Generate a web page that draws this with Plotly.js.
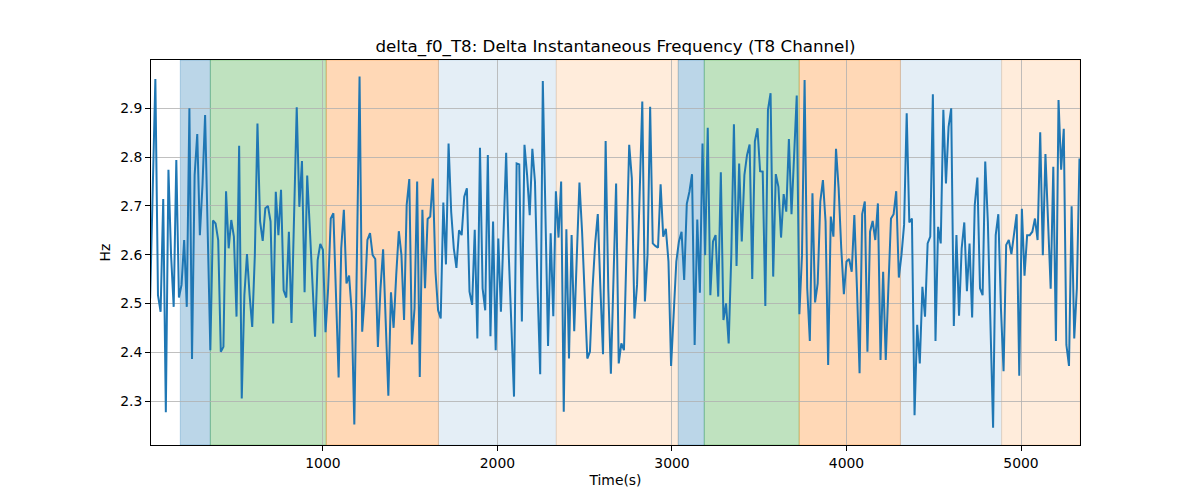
<!DOCTYPE html>
<html>
<head>
<meta charset="utf-8">
<script src="https://cdn.plot.ly/plotly-3.0.1.min.js"></script>
<style>
  html, body { margin: 0; padding: 0; background: #fff; }
  #chart { width: 1200px; height: 500px; }
</style>
</head>
<body>
<div id="chart"></div>
<script>
// delta f0 readings (Hz), one sample every SAMPLE_STEP seconds
const deltaF0 = [
  2.510, 2.740, 2.960, 2.517, 2.483, 2.714, 2.277, 2.774, 2.599, 2.493,
  2.794, 2.512, 2.538, 2.630, 2.493, 2.900, 2.386, 2.763, 2.847, 2.640,
  2.743, 2.886, 2.647, 2.404, 2.670, 2.664, 2.630, 2.401, 2.411, 2.730,
  2.613, 2.671, 2.637, 2.473, 2.823, 2.305, 2.517, 2.601, 2.517, 2.452,
  2.599, 2.869, 2.668, 2.628, 2.695, 2.700, 2.668, 2.459, 2.729, 2.640,
  2.733, 2.527, 2.512, 2.647, 2.460, 2.681, 2.902, 2.698, 2.792, 2.523,

  2.762, 2.654, 2.531, 2.432, 2.589, 2.622, 2.610, 2.441, 2.531, 2.674,
  2.685, 2.531, 2.348, 2.613, 2.692, 2.541, 2.557, 2.483, 2.252, 2.599,
  2.965, 2.442, 2.517, 2.630, 2.644, 2.599, 2.591, 2.411, 2.531, 2.611,
  2.463, 2.311, 2.523, 2.450, 2.558, 2.648, 2.599, 2.466, 2.702, 2.755,
  2.416, 2.490, 2.750, 2.349, 2.692, 2.531, 2.673, 2.678, 2.756, 2.565,
  2.486, 2.469, 2.707, 2.580, 2.828, 2.688, 2.613, 2.573, 2.650,

  2.640, 2.719, 2.736, 2.524, 2.497, 2.651, 2.428, 2.819, 2.531, 2.486,
  2.804, 2.433, 2.668, 2.404, 2.633, 2.483, 2.647, 2.809, 2.599, 2.435,
  2.309, 2.787, 2.785, 2.463, 2.825, 2.763, 2.681, 2.817, 2.750, 2.531,
  2.355, 2.956, 2.681, 2.413, 2.644, 2.474, 2.730, 2.635, 2.750, 2.278,
  2.652, 2.387, 2.640, 2.443, 2.599, 2.748, 2.647, 2.510, 2.387, 2.401,
  2.531, 2.623, 2.683, 2.531, 2.396, 2.833, 2.531, 2.356,

  2.551, 2.746, 2.377, 2.418, 2.404, 2.599, 2.825, 2.757, 2.469, 2.538,
  2.736, 2.914, 2.504, 2.599, 2.903, 2.623, 2.618, 2.614, 2.744, 2.637,
  2.653, 2.586, 2.372, 2.476, 2.586, 2.627, 2.647, 2.548, 2.704, 2.729,
  2.765, 2.415, 2.672, 2.522, 2.828, 2.599, 2.860, 2.517, 2.627, 2.640,
  2.514, 2.769, 2.466, 2.500, 2.418, 2.599, 2.867, 2.577, 2.787, 2.627,
  2.763, 2.804, 2.826, 2.550, 2.832, 2.859, 2.771, 2.770, 2.495, 2.897,

  2.931, 2.555, 2.765, 2.739, 2.635, 2.724, 2.688, 2.837, 2.683, 2.804,
  2.926, 2.478, 2.599, 2.958, 2.531, 2.423, 2.726, 2.502, 2.541, 2.709,
  2.753, 2.668, 2.374, 2.678, 2.637, 2.817, 2.736, 2.613, 2.519, 2.586,
  2.591, 2.565, 2.681, 2.531, 2.357, 2.683, 2.709, 2.401, 2.647, 2.669,
  2.630, 2.705, 2.384, 2.565, 2.384, 2.531, 2.674, 2.683, 2.730, 2.553,
  2.599, 2.661, 2.890, 2.666, 2.674, 2.271, 2.456, 2.377, 2.534,

  2.473, 2.623, 2.637, 2.929, 2.423, 2.657, 2.623, 2.897, 2.746, 2.862,
  2.900, 2.454, 2.640, 2.475, 2.613, 2.666, 2.525, 2.623, 2.471, 2.702,
  2.758, 2.531, 2.517, 2.791, 2.668, 2.476, 2.245, 2.640, 2.683, 2.490,
  2.361, 2.620, 2.630, 2.601, 2.647, 2.683, 2.352, 2.694, 2.557, 2.640,
  2.640, 2.647, 2.674, 2.630, 2.851, 2.599, 2.806, 2.668, 2.530, 2.780,
  2.423, 2.917, 2.774, 2.858, 2.415, 2.372, 2.699, 2.428, 2.531, 2.797,
];

const START_TIME = 10;
const SAMPLE_STEP = 15;

// labelled segments (seconds) and which stage each one is
const segmentStart = [183, 355, 1019, 1662, 2337, 3036, 3185, 3729, 4309, 4889];
const segmentEnd = [355, 1019, 1662, 2337, 3036, 3185, 3729, 4309, 4889, 5338];
const segmentStage = [0, 1, 2, 3, 4, 0, 1, 2, 3, 4];

const xTicks = [1000, 2000, 3000, 4000, 5000];
const yTicks = [2.3, 2.4, 2.5, 2.6, 2.7, 2.8, 2.9];

const STAGE_FILL = [
  'rgba(31,119,180,0.3)',
  'rgba(44,160,44,0.3)',
  'rgba(255,127,14,0.3)',
  'rgba(31,119,180,0.12)',
  'rgba(255,127,14,0.15)',
];

const time = deltaF0.map((_, i) => START_TIME + i * SAMPLE_STEP);

const shapes = segmentStart.map((x0, i) => ({
  type: 'rect',
  xref: 'x',
  yref: 'paper',
  x0,
  x1: segmentEnd[i],
  y0: 0,
  y1: 1,
  fillcolor: STAGE_FILL[segmentStage[i]],
  line: { color: STAGE_FILL[segmentStage[i]], width: 1 },
  layer: 'below',
}));

const FONT = 'DejaVu Sans, sans-serif';
const LABEL_SIZE = 13.9;

const axisStyle = {
  showline: true,
  linecolor: '#000',
  linewidth: 1,
  mirror: true,
  ticks: 'outside',
  ticklen: 5,
  tickwidth: 1,
  tickcolor: '#000',
  showgrid: true,
  gridcolor: '#b0b0b0',
  gridwidth: 0.8,
  zeroline: false,
  tickfont: { family: FONT, size: LABEL_SIZE, color: '#000' },
};

Plotly.newPlot(
  'chart',
  [
    {
      x: time,
      y: deltaF0,
      type: 'scatter',
      mode: 'lines',
      line: { color: '#1f77b4', width: 2 },
      hoverinfo: 'x+y',
    },
  ],
  {
    width: 1200,
    height: 500,
    margin: { l: 151, r: 120, t: 60, b: 55 },
    paper_bgcolor: '#fff',
    plot_bgcolor: '#fff',
    showlegend: false,
    font: { family: FONT, color: '#000' },
    title: {
      text: 'delta_f0_T8: Delta Instantaneous Frequency (T8 Channel)',
      font: { family: FONT, size: 16.7, color: '#000' },
      x: 0.5,
      xref: 'paper',
      xanchor: 'center',
      y: 0.908,
      yref: 'container',
      yanchor: 'middle',
    },
    xaxis: {
      ...axisStyle,
      range: [15, 5338],
      tickvals: xTicks,
      ticktext: xTicks.map(String),
      title: { text: 'Time(s)', font: { family: FONT, size: LABEL_SIZE, color: '#000' }, standoff: 5 },
    },
    yaxis: {
      ...axisStyle,
      range: [2.2098, 2.999],
      tickvals: yTicks,
      ticktext: yTicks.map((v) => v.toFixed(1)),
      title: { text: 'Hz', font: { family: FONT, size: LABEL_SIZE, color: '#000' }, standoff: 6 },
    },
    shapes,
  },
  { displayModeBar: false, staticPlot: true },
);
</script>
</body>
</html>
